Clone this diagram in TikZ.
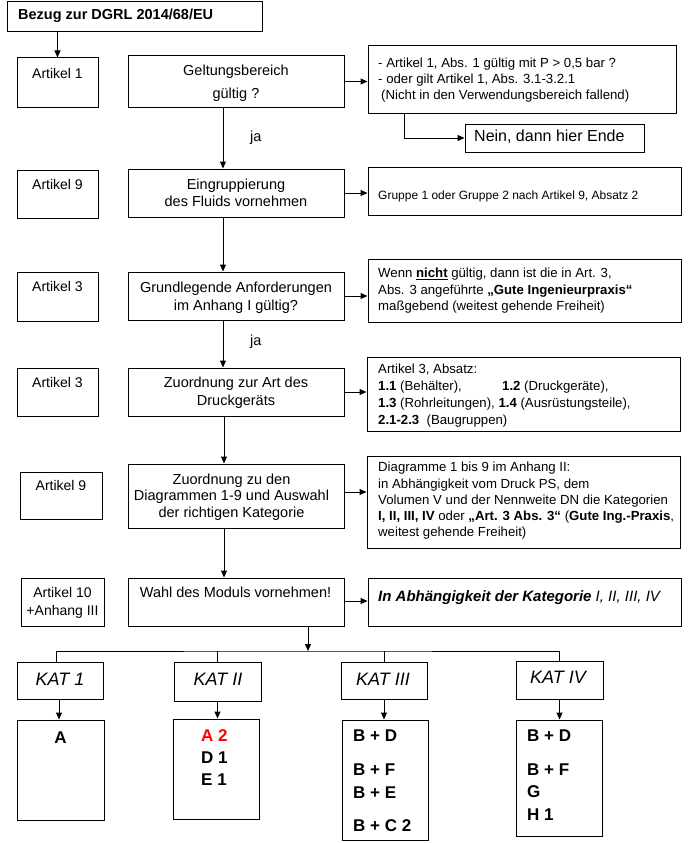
\documentclass[tikz,border=0pt]{standalone}
\usepackage{fontspec}
\setmainfont{Liberation Sans}
\usetikzlibrary{arrows.meta}
\begin{document}
\begin{tikzpicture}[x=1pt,y=-1pt,
  box/.style={draw, line width=1pt, inner sep=0pt},
  arr/.style={line width=1pt, -{Triangle[length=7pt,width=6pt]}},
  lin/.style={line width=1pt},
  txt/.style={inner sep=0pt},
  lefttxt/.style={txt, font=\fontsize{14}{17.7}\selectfont, align=center, anchor=base},
  midtxt/.style={txt, font=\fontsize{14.5}{17}\selectfont, align=center, anchor=base},
  righttxt/.style={txt, font=\fontsize{13.2}{16.3}\selectfont, align=left, anchor=base west},
  kattxt/.style={txt, font=\fontsize{18}{22}\selectfont\itshape, anchor=base},
  modtxt/.style={txt, font=\fontsize{17}{22.5}\selectfont\bfseries, align=left, anchor=base west}]
\useasboundingbox (0,0) rectangle (692,843);

% ---------- boxes ----------
\node[box, minimum width=255pt, minimum height=30pt] (title) at (134.5,17) {};
\node[box, minimum width=81pt, minimum height=49pt] (art1) at (57.5,82.5) {};
\node[box, minimum width=216pt, minimum height=51pt] (gelt) at (236,81.5) {};
\node[box, minimum width=308pt, minimum height=67pt] (r1) at (522,79.5) {};
\node[box, minimum width=179pt, minimum height=28pt] (nein) at (554.5,138) {};

\node[box, minimum width=81pt, minimum height=48pt] (art9) at (57.5,194) {};
\node[box, minimum width=216pt, minimum height=48pt] (eing) at (236,193) {};
\node[box, minimum width=313pt, minimum height=48pt] (r2) at (524.5,191) {};

\node[box, minimum width=81pt, minimum height=49pt] (art3a) at (57.5,296.5) {};
\node[box, minimum width=216pt, minimum height=48pt] (grund) at (236,296) {};
\node[box, minimum width=313pt, minimum height=63pt] (r3) at (524.5,290.5) {};

\node[box, minimum width=81pt, minimum height=48pt] (art3b) at (57.5,392) {};
\node[box, minimum width=216pt, minimum height=48pt] (zuord) at (236,392) {};
\node[box, minimum width=313pt, minimum height=74pt] (r4) at (523.5,394) {};

\node[box, minimum width=82pt, minimum height=47pt] (art9b) at (61,495.5) {};
\node[box, minimum width=216pt, minimum height=64pt] (zuord2) at (236,496) {};
\node[box, minimum width=313pt, minimum height=92pt] (r5) at (523.5,502) {};

\node[box, minimum width=83pt, minimum height=48pt] (art10) at (62.5,602) {};
\node[box, minimum width=216pt, minimum height=48pt] (wahl) at (236,602) {};
\node[box, minimum width=313pt, minimum height=48pt] (r6) at (524.5,602) {};

\node[box, minimum width=86pt, minimum height=37pt] (kat1) at (60,680.5) {};
\node[box, minimum width=87pt, minimum height=39pt] (kat2) at (217.5,681.5) {};
\node[box, minimum width=86pt, minimum height=37pt] (kat3) at (384,680.5) {};
\node[box, minimum width=87pt, minimum height=38pt] (kat4) at (559.5,680) {};

\node[box, minimum width=87pt, minimum height=100pt] (m1) at (60.5,770) {};
\node[box, minimum width=86pt, minimum height=100pt] (m2) at (216,769) {};
\node[box, minimum width=86pt, minimum height=120pt] (m3) at (385,780) {};
\node[box, minimum width=86pt, minimum height=116pt] (m4) at (559,778) {};

\coordinate (bus) at (308,651);

% ---------- texts (multi-line: anchor = baseline of last line) ----------
\node[txt, font=\fontsize{14.5}{17}\selectfont\bfseries, anchor=base west] (ttitle) at (18,20) {Bezug zur DGRL 2014/68/EU};

\node[lefttxt] (tart1) at (57.5,78) {Artikel 1};
\node[midtxt, font=\fontsize{14.5}{22}\selectfont] (tgelt) at (236,98) {Geltungsbereich\\gültig ?};
\node[righttxt] (tr1) at (378,99.9) {- Artikel 1, Abs. 1 gültig mit P > 0,5 bar ?\\- oder gilt Artikel 1, Abs. 3.1-3.2.1\\\hspace*{3pt}(Nicht in den Verwendungsbereich fallend)};
\node[txt, font=\fontsize{16}{19}\selectfont, anchor=base west] (tnein) at (474,141.7) {Nein, dann hier Ende};
\node[txt, font=\fontsize{14.5}{17}\selectfont, anchor=base west] (ja1) at (250,141) {ja};

\node[lefttxt] (tart9) at (57.5,189.3) {Artikel 9};
\node[midtxt] (teing) at (236,206.3) {Eingruppierung\\des Fluids vornehmen};
\node[righttxt, font=\fontsize{12}{15}\selectfont] (tr2) at (378,199.3) {Gruppe 1 oder Gruppe 2 nach Artikel 9, Absatz 2};

\node[lefttxt] (tart3a) at (57.5,291.7) {Artikel 3};
\node[midtxt, font=\fontsize{14.5}{18}\selectfont] (tgrund) at (236,310.3) {Grundlegende Anforderungen\\im Anhang I gültig?};
\node[righttxt] (tr3) at (378,310.3) {Wenn \underline{\textbf{nicht}} gültig, dann ist die in Art. 3,\\Abs. 3 angeführte \textbf{„Gute Ingenieurpraxis“}\\maßgebend (weitest gehende Freiheit)};
\node[txt, font=\fontsize{14.5}{17}\selectfont, anchor=base west] (ja2) at (250,345) {ja};

\node[lefttxt] (tart3b) at (57.5,387.7) {Artikel 3};
\node[midtxt, font=\fontsize{14.5}{17.3}\selectfont] (tzuord) at (236,405) {Zuordnung zur Art des\\Druckgeräts};
\node[righttxt, font=\fontsize{13.2}{17.2}\selectfont] (tr4) at (378,424.9) {Artikel 3, Absatz:\\\makebox[124pt][l]{\textbf{1.1} (Behälter),}\textbf{1.2} (Druckgeräte),\\\textbf{1.3} (Rohrleitungen), \textbf{1.4} (Ausrüstungsteile),\\\textbf{2.1-2.3}\ \ (Baugruppen)};

\node[lefttxt] (tart9b) at (61,490.7) {Artikel 9};
\node[midtxt, font=\fontsize{14.5}{16.7}\selectfont] (tzuord2) at (231.5,517.4) {Zuordnung zu den\\Diagrammen 1-9 und Auswahl\\der richtigen Kategorie};
\node[righttxt] (tr5) at (378,536.9) {Diagramme 1 bis 9 im Anhang II:\\in Abhängigkeit vom Druck PS, dem\\Volumen V und der Nennweite DN die Kategorien\\\textbf{I, II, III, IV} oder \textbf{„Art. 3 Abs. 3“} (\textbf{Gute Ing.-Praxis},\\weitest gehende Freiheit)};

\node[lefttxt] (tart10) at (62.5,615) {Artikel 10\\+Anhang III};
\node[midtxt] (twahl) at (235.5,597.3) {Wahl des Moduls vornehmen!};
\node[txt, font=\fontsize{15}{18}\selectfont\itshape, anchor=base west] (tr6) at (378,601) {\textbf{In Abhängigkeit der Kategorie} I, II, III, IV};

\node[kattxt] (tkat1) at (60,685) {KAT 1};
\node[kattxt] (tkat2) at (218,685) {KAT II};
\node[kattxt] (tkat3) at (383,685) {KAT III};
\node[kattxt] (tkat4) at (558,683.3) {KAT IV};

\node[txt, font=\fontsize{17}{22}\selectfont\bfseries, anchor=base] (tm1) at (60.5,743.3) {A};
\node[modtxt, font=\fontsize{17}{22}\selectfont\bfseries] (tm2) at (201,785.7) {\textcolor{red}{A 2}\\D 1\\E 1};
\node[modtxt, font=\fontsize{17}{23.3}\selectfont\bfseries] (tm3) at (353,831.3) {B + D\\[10.7pt]B + F\\B + E\\[9.7pt]B + C 2};
\node[modtxt] (tm4) at (527,820) {B + D\\[11.5pt]B + F\\G\\H 1};

% ---------- connectors ----------
\draw[arr] (art1.north |- title.south) -- (art1.north);
\draw[arr] (gelt.east) -- (gelt.east -| r1.west);
\draw[arr] ([xshift=37pt]r1.south west) |- (nein.west);
\draw[arr] ([xshift=-13pt]gelt.south) -- ([xshift=-13pt]eing.north);
\draw[arr] (eing.east) -- (eing.east -| r2.west);
\draw[arr] ([xshift=-13pt]eing.south) -- ([xshift=-13pt]grund.north);
\draw[arr] (grund.east) -- (grund.east -| r3.west);
\draw[arr] ([xshift=-13pt]grund.south) -- ([xshift=-13pt]zuord.north);
\draw[arr] (zuord.east) -- (zuord.east -| r4.west);
\draw[arr] ([xshift=-12pt]zuord.south) -- ([xshift=-12pt]zuord2.north);
\draw[arr] ([yshift=4pt]zuord2.east) -- ([yshift=4pt]zuord2.east -| r5.west);
\draw[arr] ([xshift=-12pt]zuord2.south) -- ([xshift=-12pt]wahl.north);
\draw[arr] ([yshift=1pt]wahl.east) -- ([yshift=1pt]wahl.east -| r6.west);
\draw[arr] (wahl.south -| bus) -- (bus);
\draw[lin] ([xshift=-4pt]kat1.north) |- (bus) -| (kat4.north);
\draw[lin] (kat2.north) -- (kat2.north |- bus);
\draw[lin] (kat3.north) -- (kat3.north |- bus);
\draw[arr] ([xshift=-1pt]kat1.south) -- ([xshift=-1pt]kat1.south |- m1.north);
\draw[arr] (kat2.south) -- (kat2.south |- m2.north);
\draw[arr] (kat3.south) -- (kat3.south |- m3.north);
\draw[arr] (kat4.south) -- (kat4.south |- m4.north);
\end{tikzpicture}
\end{document}
